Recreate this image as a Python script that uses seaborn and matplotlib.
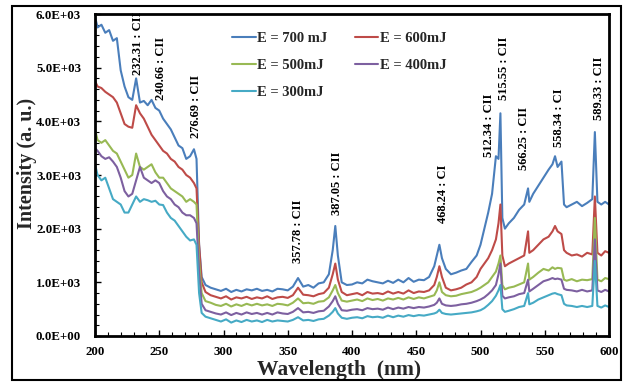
import numpy as np
import pandas as pd
import matplotlib
matplotlib.use("Agg")
import matplotlib.pyplot as plt
from matplotlib.patches import Rectangle
from matplotlib.ticker import MultipleLocator, FuncFormatter
import seaborn as sns

wavelength = [
    200, 202, 205, 208, 211, 214, 217, 220, 223, 226,
    229, 232, 235, 238, 241, 244, 247, 250, 253, 256,
    259, 262, 265, 268, 271, 274, 277, 279, 281, 283,
    286, 290, 294, 298, 302, 306, 310, 314, 318, 322,
    326, 330, 334, 338, 342, 346, 350, 354, 358, 362,
    366, 370, 374, 378, 382, 385, 387, 389, 392, 396,
    400, 404, 408, 412, 416, 420, 424, 428, 432, 436,
    440, 444, 448, 452, 456, 460, 464, 466, 468, 470,
    473, 477, 481, 485, 489, 493, 497, 500, 503, 506,
    509, 512, 514, 515.5, 517, 519, 522, 526, 530, 534,
    537, 538, 541, 545, 549, 553, 556, 558, 560, 563,
    565, 567, 571, 575, 579, 583, 587, 589, 591, 594,
    597, 600,
]

e700 = [
    5950, 5750, 5800, 5650, 5700, 5500, 5550, 4950, 4650, 4450,
    4400, 4800, 4350, 4380, 4300, 4400, 4250, 4200, 4050, 3950,
    3850, 3700, 3550, 3500, 3300, 3350, 3480, 3300, 1700, 1100,
    950, 900, 870, 840, 880, 820, 860, 830, 870, 850,
    880, 840, 860, 830, 880, 870, 850, 920, 1080, 920,
    950, 900, 980, 1000, 1150, 1600, 2050, 1500, 1000, 950,
    960, 1000, 980, 1050, 1020, 1000, 980, 1030, 990, 1050,
    1000, 1080, 1010, 1050, 1040, 1100, 1300, 1500, 1700, 1450,
    1250, 1150, 1180, 1220, 1250, 1380, 1500, 1700, 2000, 2300,
    2650, 3350, 3300, 4150, 2200, 2000, 2100, 2200, 2350, 2450,
    2750, 2500, 2650, 2800, 2950, 3100, 3200, 3350, 3150, 3250,
    2450, 2400, 2450, 2500, 2420, 2480, 2550, 3800, 2500, 2450,
    2500, 2450,
]

e600 = [
    4750, 4650, 4620, 4550, 4500, 4450, 4350, 4150, 3950, 3900,
    3880, 4300, 4150, 4050, 3900, 3750, 3650, 3550, 3450, 3400,
    3300, 3250, 3150, 3100, 3000, 2950, 2850, 2750, 1700, 1000,
    820, 760, 730, 700, 740, 680, 720, 700, 730, 690,
    720, 700, 740, 690, 720, 730, 710, 760, 900, 770,
    760, 740, 780, 800, 900, 1150, 1350, 1050, 820, 760,
    780, 800, 760, 820, 790, 800, 780, 830, 790, 820,
    790, 850, 800, 830, 820, 850, 950, 1100, 1300, 1100,
    900, 850, 870, 900, 960, 1000, 1100, 1250, 1350, 1450,
    1600, 1800, 2100, 2450, 1500, 1300, 1350, 1400, 1450, 1500,
    1950, 1550, 1600, 1700, 1800, 1850, 1950, 2050, 1950, 1900,
    1600, 1550, 1500, 1520, 1480, 1550, 1520, 2600, 1550, 1500,
    1580, 1550,
]

e500 = [
    3850, 3650, 3600, 3650, 3550, 3450, 3400, 3250, 3100, 2950,
    3000, 3400, 3150, 3100, 3150, 3200, 3050, 2950, 2950, 2850,
    2750, 2700, 2650, 2600, 2500, 2550, 2500, 2450, 1400, 800,
    650, 620, 580, 560, 600, 550, 590, 560, 600, 570,
    600, 570, 590, 560, 600, 590, 570, 620, 700, 610,
    620, 600, 640, 650, 720, 850, 950, 800, 660, 640,
    660, 680, 650, 700, 670, 690, 660, 700, 680, 710,
    680, 720, 690, 720, 700, 730, 760, 850, 1000, 820,
    760, 740, 750, 780, 800, 820, 860, 900, 950, 1000,
    1100, 1200, 1350, 1500, 950, 870, 900, 920, 960, 1000,
    1350, 1050, 1100, 1180, 1250, 1220, 1280, 1250, 1270, 1260,
    1050, 1030, 1060, 1020, 1050, 1040, 1060, 2200, 1050, 1020,
    1080, 1060,
]

e400 = [
    3500, 3450, 3350, 3300, 3330, 3250, 3150, 2950, 2700, 2600,
    2650, 2900, 3150, 2950, 2900, 2850, 2900, 2850, 2700, 2600,
    2550, 2450, 2400, 2300, 2250, 2250, 2200, 2100, 1200, 600,
    480, 450, 420, 400, 440, 390, 430, 400, 440, 410,
    430, 400, 430, 400, 440, 420, 410, 450, 520, 440,
    450, 430, 460, 470, 550, 650, 740, 600, 480, 470,
    490, 500, 480, 520, 500, 510, 490, 530, 500, 530,
    510, 540, 520, 540, 530, 550, 580, 620, 700, 600,
    570, 560, 570, 590, 600, 620, 650, 680, 720, 780,
    850, 950, 1150, 1350, 750, 700, 720, 740, 780, 800,
    1050, 830, 880, 950, 1020, 1050, 1080, 1060, 1070, 1050,
    880, 860, 850, 830, 860, 830, 850, 1800, 850, 820,
    860, 830,
]

e300 = [
    3200, 3000, 2900, 2950, 2750, 2550, 2500, 2450, 2300, 2300,
    2450, 2600, 2500, 2550, 2530, 2500, 2520, 2450, 2440, 2300,
    2200, 2150, 2050, 1950, 1850, 1780, 1800, 1700, 800, 430,
    360, 330, 300, 270, 310, 250, 290, 260, 300, 270,
    290, 260, 300, 270, 290, 280, 270, 300, 350, 290,
    300, 280, 310, 320, 380, 450, 520, 420, 340, 320,
    340, 350, 330, 370, 350, 360, 340, 380, 350, 380,
    360, 390, 370, 390, 380, 400, 420, 440, 490, 430,
    410, 400, 410, 420, 430, 440, 460, 480, 520, 580,
    650, 750, 850, 950, 500, 450, 470, 500, 540, 560,
    800, 590, 620, 680, 720, 760, 790, 800, 780, 760,
    600, 570, 560, 540, 560, 540, 560, 1400, 560, 530,
    570, 540,
]

series_labels = ["E = 700 mJ", "E = 600mJ", "E = 500mJ", "E = 400mJ", "E = 300mJ"]
series_values = [e700, e600, e500, e400, e300]
series_colors = ["#4A7EBB", "#BE4B48", "#98B954", "#7D60A0", "#46AAC5"]

peak_labels = ["232.31 : CII", "240.66 : CII", "276.69 : CII", "357.78 : CII",
               "387.05 : CII", "468.24 : CI", "512.34 : CII", "515.55 : CII",
               "566.25 : CII", "558.34 : CI", "589.33 : CII"]
peak_x = [233.5, 251.5, 278.8, 358.0, 388.7, 470.6, 506.4, 518.0, 533.7, 561.0, 592.2]
peak_y = [4860, 4390, 3690, 1360, 2250, 2100, 3340, 4390, 3090, 3520, 4020]

frames = []
for lab, vals in zip(series_labels, series_values):
    frames.append(pd.DataFrame({"Wavelength": wavelength, "Intensity": vals, "Series": lab}))
df = pd.concat(frames, ignore_index=True)

sns.set_theme(style="white")
plt.rcParams["font.family"] = ["Liberation Serif", "DejaVu Serif"]
plt.rcParams["font.weight"] = "bold"

fig = plt.figure(figsize=(6.25, 3.82), dpi=100)
ax = fig.add_axes([95 / 625, 1 - 336 / 382, (609 - 95) / 625, (336 - 14) / 382])

sns.lineplot(data=df, x="Wavelength", y="Intensity", hue="Series",
             hue_order=series_labels, palette=series_colors, lw=1.5,
             sort=False, ax=ax, legend=False)

ax.set_xlim(200, 600)
ax.set_ylim(0, 6000)
ax.xaxis.set_major_locator(MultipleLocator(50))
ax.xaxis.set_minor_locator(MultipleLocator(10))
ax.yaxis.set_major_locator(MultipleLocator(1000))
ax.yaxis.set_minor_locator(MultipleLocator(200))
ax.yaxis.set_major_formatter(FuncFormatter(lambda v, p: "{:.1E}".format(v)))
ax.tick_params(axis="both", which="both", direction="in", colors="black",
               labelsize=9.3, left=True, bottom=True, top=False, right=False)
ax.tick_params(which="major", length=4, width=1)
ax.tick_params(which="minor", length=3, width=0.8)
ax.tick_params(axis="x", pad=7)
ax.tick_params(axis="y", pad=10)
for lbl in ax.get_xticklabels() + ax.get_yticklabels():
    lbl.set_fontweight("bold")
for s in ax.spines.values():
    s.set_color("black")
    s.set_linewidth(2)

ax.set_xlabel("Wavelength  (nm)", fontsize=15.5, fontweight="bold")
ax.set_ylabel("Intensity (a. u.)", fontsize=14.5, fontweight="bold")
ax.xaxis.set_label_coords(0.475, -0.075)
ax.yaxis.set_label_coords(-0.113, 0.537)

for t, x, y in zip(peak_labels, peak_x, peak_y):
    ax.text(x, y, t, rotation=90, ha="center", va="bottom", fontsize=9,
            fontweight="bold", color="black")

lines = ax.get_lines()
handles = {lab: ln for lab, ln in zip(series_labels, lines)}
order = ["E = 700 mJ", "E = 500mJ", "E = 300mJ", "E = 600mJ", "E = 400mJ"]
leg = ax.legend([handles[o] for o in order], order, ncol=2, frameon=False,
                loc="upper left", bbox_to_anchor=(0.267, 0.945),
                borderaxespad=0, borderpad=0, handlelength=1.6,
                handletextpad=0.1, columnspacing=1.9, labelspacing=0.95,
                prop={"size": 10.5, "weight": "bold"})

fig.add_artist(Rectangle((12 / 625, 2 / 382), (621 - 12) / 625, (378 - 4) / 382,
                         transform=fig.transFigure, fill=False, lw=1.5,
                         edgecolor="black"))

fig.savefig("out.png", dpi=100)
